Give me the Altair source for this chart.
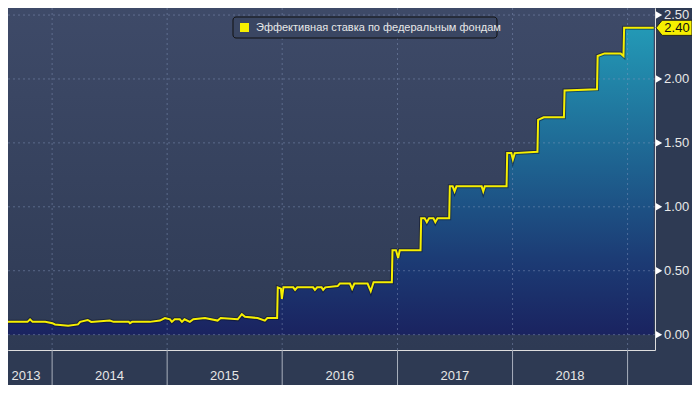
import altair as alt
import pandas as pd

# ---------------- data ----------------
dates = [
    "2013-07-15", "2013-10-15", "2013-10-23", "2013-10-31", "2013-12-10",
    "2014-01-02", "2014-01-10", "2014-02-21", "2014-03-24", "2014-03-31",
    "2014-04-24", "2014-05-05", "2014-07-03", "2014-07-15", "2014-09-01",
    "2014-09-05", "2014-09-12", "2014-11-07", "2014-12-09", "2014-12-25",
    "2015-01-10", "2015-01-16", "2015-01-25", "2015-02-10", "2015-02-17",
    "2015-02-25", "2015-03-14", "2015-03-25", "2015-05-01", "2015-06-10",
    "2015-06-20", "2015-08-13", "2015-08-26", "2015-09-05", "2015-10-15",
    "2015-11-07", "2015-11-15", "2015-12-16", "2015-12-18", "2015-12-28",
    "2015-12-31", "2016-01-05", "2016-02-05", "2016-02-11", "2016-02-18",
    "2016-04-08", "2016-04-14", "2016-04-21", "2016-05-05", "2016-05-10",
    "2016-05-17", "2016-06-25", "2016-07-02", "2016-08-03", "2016-08-10",
    "2016-08-17", "2016-09-28", "2016-10-08", "2016-10-17", "2016-12-14",
    "2016-12-16", "2016-12-27", "2017-01-03", "2017-01-08", "2017-03-15",
    "2017-03-17", "2017-03-28", "2017-04-04", "2017-04-11", "2017-04-25",
    "2017-05-01", "2017-05-08", "2017-06-14", "2017-06-16", "2017-06-25",
    "2017-07-01", "2017-07-07", "2017-09-25", "2017-09-30", "2017-10-05",
    "2017-12-13", "2017-12-15", "2017-12-28", "2018-01-02", "2018-01-08",
    "2018-03-21", "2018-03-23", "2018-04-10", "2018-06-13", "2018-06-15",
    "2018-09-26", "2018-09-28", "2018-10-20", "2018-12-10", "2018-12-19",
    "2018-12-21", "2019-03-25",
]
values = [
    0.10, 0.10, 0.12, 0.10, 0.10,
    0.09, 0.08, 0.07, 0.08, 0.10,
    0.115, 0.10, 0.11, 0.10, 0.10,
    0.09, 0.10, 0.10, 0.11, 0.13,
    0.12, 0.10, 0.12, 0.12, 0.10,
    0.12, 0.10, 0.12, 0.13, 0.11,
    0.13, 0.12, 0.16, 0.14, 0.13,
    0.11, 0.13, 0.13, 0.37, 0.36,
    0.28, 0.37, 0.37, 0.35, 0.37,
    0.37, 0.35, 0.37, 0.37, 0.35,
    0.37, 0.38, 0.40, 0.40, 0.36,
    0.40, 0.40, 0.34, 0.41, 0.41,
    0.66, 0.66, 0.60, 0.66, 0.66,
    0.91, 0.91, 0.88, 0.91, 0.91,
    0.88, 0.91, 0.91, 1.16, 1.16,
    1.12, 1.16, 1.16, 1.12, 1.16,
    1.16, 1.42, 1.42, 1.37, 1.42,
    1.43, 1.68, 1.70, 1.70, 1.91,
    1.92, 2.18, 2.20, 2.20, 2.18,
    2.40, 2.40,
]

year_bounds = ["2014-01-01", "2015-01-01", "2016-01-01", "2017-01-01", "2018-01-01", "2019-01-01"]
year_labels = ["2013", "2014", "2015", "2016", "2017", "2018"]
year_label_dates = ["2013-10-10", "2014-07-02", "2015-07-02", "2016-07-02", "2017-07-02", "2018-07-02"]
y_ticks = [0.0, 0.25, 0.5, 0.75, 1.0, 1.25, 1.5, 1.75, 2.0, 2.25, 2.5]
y_major = [0.0, 0.5, 1.0, 1.5, 2.0, 2.5]
y_major_labels = ["0.00", "0.50", "1.00", "1.50", "2.00", "2.50"]
legend_text = "Эффективная ставка по федеральным фондам"
last_value = 2.40

# ---------------- layout ----------------
W, H = 647, 342
FONT = "Liberation Sans"
YELLOW = "#f6ef00"

def ts(d):
    return d + "T00:00:00"

df = pd.DataFrame({"date": [ts(d) for d in dates], "value": values})
bounds_df = pd.DataFrame({"d": [ts(d) for d in year_bounds]})
labels_df = pd.DataFrame({"d": [ts(d) for d in year_label_dates], "t": year_labels})
major_df = pd.DataFrame({"v": y_major, "t": y_major_labels})
last_df = pd.DataFrame({"v": [last_value], "t": [f"{last_value:.2f}"]})
one = pd.DataFrame({"a": [0]})

quarters = []
for yr in range(2013, 2020):
    for m in (1, 4, 7, 10):
        if (2013, 10) <= (yr, m) <= (2019, 1):
            quarters.append(alt.DateTime(year=yr, month=m, date=1))

xscale = alt.Scale(domain=[alt.DateTime(year=2013, month=8, date=14),
                           alt.DateTime(year=2019, month=3, date=29)], nice=False)
yscale = alt.Scale(domain=[-0.12, 2.555], zero=False, nice=False)

bg = alt.Chart(one).mark_rect(
    fill=alt.Gradient(gradient="linear", x1=0, x2=0, y1=0, y2=1,
                      stops=[alt.GradientStop(color="#3e4a68", offset=0),
                             alt.GradientStop(color="#2e3a54", offset=1)])
).encode(x=alt.value(0), x2=alt.value(W), y=alt.value(0), y2=alt.value(H))

area = alt.Chart(df).mark_area(
    fill=alt.Gradient(gradient="linear", x1=0, x2=0, y1=0, y2=1,
                      stops=[alt.GradientStop(color="#2399b6", offset=0),
                             alt.GradientStop(color="#1e6290", offset=0.45),
                             alt.GradientStop(color="#1c3c75", offset=0.75),
                             alt.GradientStop(color="#1a2360", offset=1)]),
).encode(
    x=alt.X("date:T", scale=xscale,
            axis=alt.Axis(values=quarters, labels=False, grid=False, ticks=True,
                          tickSize=4, tickColor="white", domainColor="white",
                          domainWidth=1, title=None)),
    y=alt.Y("value:Q", scale=yscale,
            axis=alt.Axis(orient="right", values=y_ticks, grid=False, tickSize=5,
                          tickColor="white", domainColor="white", domainWidth=1,
                          labels=False, title=None)),
    y2=alt.value(H),
)

hgrid = alt.Chart(major_df).mark_rule(strokeDash=[2, 3], color="#8a9cc0", opacity=0.45).encode(
    y=alt.Y("v:Q", scale=yscale, axis=None), x=alt.value(0), x2=alt.value(W))
vgrid = alt.Chart(bounds_df).mark_rule(strokeDash=[2, 3], color="#8a9cc0", opacity=0.45).encode(
    x=alt.X("d:T", scale=xscale, axis=None), y=alt.value(0), y2=alt.value(H))

shadow = alt.Chart(df).mark_line(color="#0c1020", strokeWidth=4, opacity=0.5).encode(
    x=alt.X("date:T", scale=xscale, axis=None), y=alt.Y("value:Q", scale=yscale, axis=None))
line = alt.Chart(df).mark_line(color=YELLOW, strokeWidth=2).encode(
    x=alt.X("date:T", scale=xscale, axis=None), y=alt.Y("value:Q", scale=yscale, axis=None))

seps = alt.Chart(bounds_df).mark_rule(color="#a9b0bd", strokeWidth=1).encode(
    x=alt.X("d:T", scale=xscale, axis=None), y=alt.value(H), y2=alt.value(H + 40))
ylabels = alt.Chart(labels_df).mark_text(align="center", baseline="bottom", font=FONT,
                                         fontSize=13, color="#e6e6e6").encode(
    x=alt.X("d:T", scale=xscale, axis=None), y=alt.value(H + 33), text="t:N")

tri = alt.Chart(major_df).mark_point(shape="triangle-right", filled=True, size=55,
                                     color="white", opacity=1).encode(
    x=alt.value(651), y=alt.Y("v:Q", scale=yscale, axis=None))
vlabels = alt.Chart(major_df).mark_text(align="left", baseline="middle", font=FONT,
                                        fontSize=13, color="#e8e8e8").encode(
    x=alt.value(656), y=alt.Y("v:Q", scale=yscale, axis=None), text="t:N")

tag = alt.Chart(last_df).mark_point(
    shape="M -1 0 L -0.66 -0.42 L 1 -0.42 L 1 0.42 L -0.66 0.42 Z",
    filled=True, size=1296, fill=YELLOW, stroke="#222222", strokeWidth=1, opacity=1,
).encode(x=alt.value(666), y=alt.Y("v:Q", scale=yscale, axis=None))
tag_text = alt.Chart(last_df).mark_text(align="center", baseline="middle", font=FONT,
                                        fontSize=13, color="#111111").encode(
    x=alt.value(669), y=alt.Y("v:Q", scale=yscale, axis=None), text="t:N")

leg_box = alt.Chart(one).mark_rect(fill="#3a4662", stroke="#111111", strokeWidth=1,
                                   cornerRadius=3).encode(
    x=alt.value(225), x2=alt.value(489), y=alt.value(9), y2=alt.value(30))
leg_sq = alt.Chart(one).mark_rect(fill=YELLOW).encode(
    x=alt.value(232), x2=alt.value(241), y=alt.value(15), y2=alt.value(24))
leg_txt = alt.Chart(pd.DataFrame({"t": [legend_text]})).mark_text(
    align="left", baseline="middle", font=FONT, fontSize=11, color="#e8e8e8").encode(
    x=alt.value(248), y=alt.value(19.5), text="t:N")

chart = alt.layer(
    bg, area, hgrid, vgrid, shadow, line, seps, ylabels, tri, vlabels, tag, tag_text,
    leg_box, leg_sq, leg_txt,
).properties(
    width=W, height=H,
    autosize=alt.AutoSizeParams(type="none"),
    padding={"left": 0, "top": 0, "right": 37, "bottom": 35},
).configure_view(stroke=None).configure(background="#2e3a53")

chart.save("out.html", embed_options={"renderer": "svg", "actions": False})
